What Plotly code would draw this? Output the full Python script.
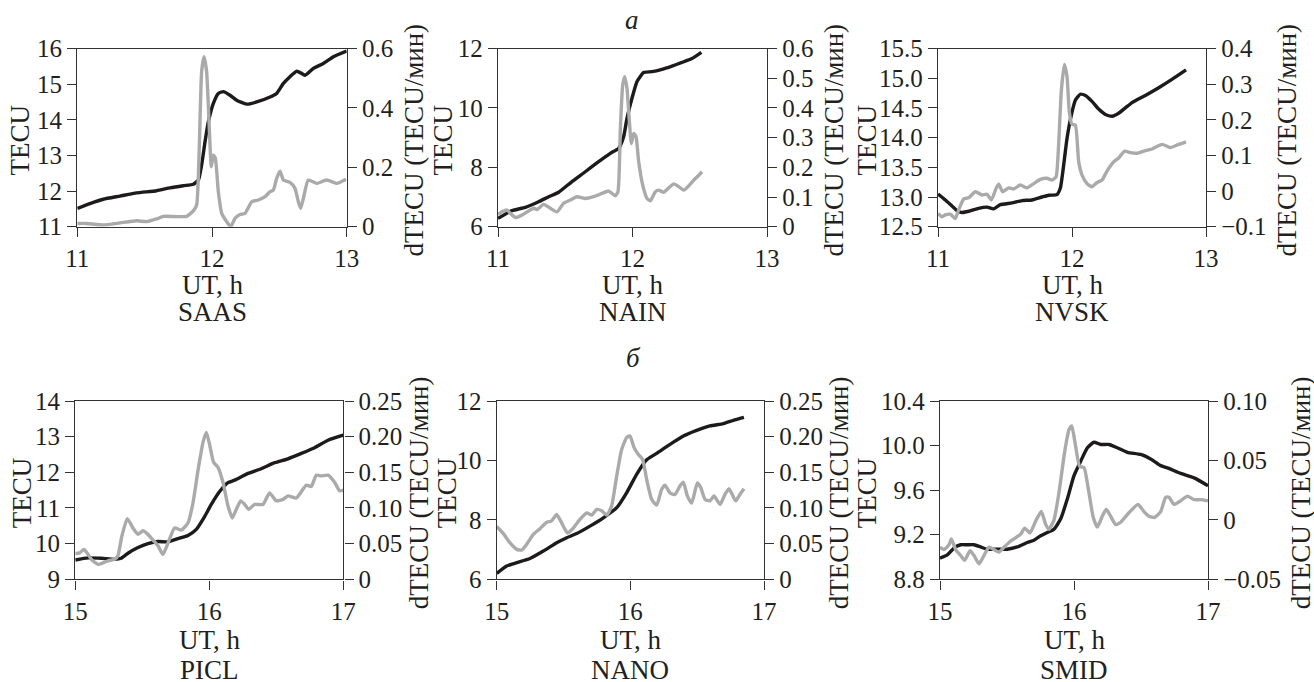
import plotly.graph_objects as go

W, H = 1314, 682

# ---------------- data ----------------
# SAAS
saas_t = [11.0, 11.094, 11.193, 11.317, 11.441, 11.589, 11.688, 11.787, 11.861, 11.899, 11.923, 11.948,
          11.973, 12.010, 12.047, 12.084, 12.134, 12.183, 12.257, 12.332, 12.431, 12.480, 12.530, 12.579,
          12.629, 12.666, 12.691, 12.752, 12.827, 12.901, 13.0]
saas_tec = [11.51, 11.65, 11.77, 11.86, 11.95, 12.01, 12.09, 12.15, 12.19, 12.31, 12.73, 13.38, 13.94,
            14.46, 14.74, 14.79, 14.69, 14.55, 14.44, 14.50, 14.64, 14.74, 15.02, 15.21, 15.36, 15.30,
            15.25, 15.44, 15.58, 15.77, 15.93]
saas_dt = [11.0, 11.069, 11.193, 11.317, 11.441, 11.515, 11.589, 11.639, 11.738, 11.812, 11.861, 11.886,
           11.906, 11.923, 11.941, 11.960, 11.980, 11.995, 12.010, 12.025, 12.047, 12.072, 12.109, 12.139,
           12.171, 12.208, 12.245, 12.295, 12.344, 12.394, 12.431, 12.455, 12.480, 12.505, 12.530, 12.579,
           12.616, 12.641, 12.658, 12.678, 12.715, 12.777, 12.851, 12.926, 12.995]
saas_dtec = [0.011, 0.011, 0.006, 0.013, 0.020, 0.017, 0.026, 0.035, 0.034, 0.035, 0.053, 0.073, 0.275,
             0.522, 0.572, 0.522, 0.331, 0.202, 0.241, 0.230, 0.118, 0.045, 0.017, 0.0, 0.028, 0.041,
             0.045, 0.084, 0.090, 0.101, 0.118, 0.123, 0.163, 0.187, 0.157, 0.149, 0.129, 0.084, 0.062,
             0.095, 0.157, 0.146, 0.157, 0.146, 0.160]

# NAIN
nain_t = [11.0, 11.104, 11.203, 11.302, 11.377, 11.451, 11.550, 11.649, 11.748, 11.835, 11.897, 11.934,
          11.959, 11.996, 12.033, 12.083, 12.145, 12.219, 12.294, 12.368, 12.442, 12.512]
nain_tec = [6.28, 6.54, 6.65, 6.84, 7.01, 7.16, 7.52, 7.85, 8.19, 8.47, 8.64, 9.03, 9.65, 10.32, 10.88,
            11.19, 11.22, 11.30, 11.41, 11.53, 11.66, 11.87]
nain_dt = [11.0, 11.030, 11.067, 11.092, 11.129, 11.178, 11.216, 11.265, 11.290, 11.340, 11.389, 11.439,
           11.488, 11.538, 11.587, 11.649, 11.711, 11.773, 11.823, 11.872, 11.892, 11.910, 11.927, 11.942,
           11.959, 11.977, 11.991, 12.009, 12.026, 12.046, 12.076, 12.108, 12.133, 12.170, 12.195, 12.232,
           12.270, 12.307, 12.344, 12.381, 12.419, 12.456, 12.481, 12.517]
nain_dtec = [0.041, 0.050, 0.056, 0.045, 0.031, 0.039, 0.050, 0.062, 0.058, 0.075, 0.062, 0.050, 0.079,
             0.090, 0.101, 0.095, 0.101, 0.112, 0.120, 0.104, 0.118, 0.331, 0.477, 0.505, 0.465, 0.353,
             0.280, 0.314, 0.303, 0.219, 0.140, 0.095, 0.087, 0.118, 0.123, 0.116, 0.131, 0.144, 0.135,
             0.123, 0.138, 0.157, 0.168, 0.185]

# NVSK
nvsk_t = [11.0, 11.055, 11.104, 11.149, 11.179, 11.229, 11.303, 11.366, 11.415, 11.465, 11.552, 11.627,
          11.701, 11.776, 11.826, 11.888, 11.913, 11.938, 11.963, 11.995, 12.025, 12.062, 12.100, 12.149,
          12.199, 12.249, 12.299, 12.348, 12.398, 12.448, 12.547, 12.647, 12.746, 12.851]
nvsk_tec = [13.05, 12.95, 12.85, 12.76, 12.74, 12.76, 12.81, 12.83, 12.80, 12.87, 12.90, 12.94, 12.95,
            13.00, 13.03, 13.04, 13.15, 13.54, 13.99, 14.38, 14.63, 14.73, 14.71, 14.61, 14.48, 14.39,
            14.36, 14.41, 14.50, 14.59, 14.71, 14.84, 14.98, 15.14]
nvsk_dt = [11.0, 11.030, 11.055, 11.092, 11.129, 11.154, 11.192, 11.229, 11.279, 11.328, 11.366, 11.398,
           11.433, 11.453, 11.483, 11.527, 11.565, 11.614, 11.664, 11.714, 11.764, 11.813, 11.851, 11.881,
           11.900, 11.920, 11.943, 11.963, 11.980, 12.000, 12.025, 12.050, 12.075, 12.112, 12.149, 12.187,
           12.224, 12.261, 12.311, 12.348, 12.393, 12.435, 12.485, 12.535, 12.597, 12.672, 12.734, 12.796,
           12.851]
nvsk_dtec = [-0.063, -0.072, -0.067, -0.065, -0.077, -0.053, -0.022, -0.019, -0.002, -0.011, -0.009,
             -0.025, 0.007, 0.019, -0.002, 0.009, 0.006, 0.017, 0.009, 0.021, 0.033, 0.036, 0.031, 0.040,
             0.129, 0.279, 0.355, 0.321, 0.222, 0.187, 0.185, 0.082, 0.045, 0.021, 0.012, 0.024, 0.031,
             0.056, 0.082, 0.093, 0.112, 0.108, 0.106, 0.112, 0.118, 0.131, 0.122, 0.131, 0.138]

# PICL
picl_t = [15.0, 15.095, 15.194, 15.294, 15.343, 15.393, 15.468, 15.542, 15.617, 15.692, 15.766, 15.841,
          15.903, 15.965, 16.015, 16.077, 16.139, 16.189, 16.289, 16.388, 16.488, 16.587, 16.687, 16.786,
          16.886, 17.0]
picl_tec = [9.54, 9.60, 9.59, 9.56, 9.59, 9.73, 9.89, 10.00, 10.06, 10.05, 10.14, 10.23, 10.40, 10.76,
            11.10, 11.46, 11.71, 11.78, 11.97, 12.10, 12.27, 12.38, 12.53, 12.69, 12.90, 13.04]
picl_dt = [15.0, 15.032, 15.065, 15.095, 15.124, 15.169, 15.206, 15.244, 15.294, 15.318, 15.348, 15.388,
           15.430, 15.468, 15.505, 15.542, 15.580, 15.617, 15.654, 15.692, 15.741, 15.791, 15.841, 15.878,
           15.915, 15.953, 15.978, 16.002, 16.032, 16.065, 16.102, 16.139, 16.172, 16.201, 16.234, 16.264,
           16.294, 16.338, 16.401, 16.450, 16.500, 16.550, 16.587, 16.649, 16.724, 16.761, 16.798, 16.836,
           16.886, 16.935, 16.973, 17.0]
picl_dtec = [0.036, 0.037, 0.042, 0.035, 0.027, 0.021, 0.023, 0.026, 0.028, 0.033, 0.061, 0.085, 0.072,
             0.063, 0.068, 0.063, 0.055, 0.047, 0.035, 0.051, 0.072, 0.069, 0.079, 0.107, 0.152, 0.192,
             0.206, 0.189, 0.164, 0.157, 0.136, 0.103, 0.086, 0.098, 0.110, 0.105, 0.098, 0.105, 0.105,
             0.121, 0.110, 0.112, 0.117, 0.114, 0.132, 0.130, 0.146, 0.145, 0.146, 0.136, 0.124, 0.125]

# NANO
nano_t = [15.0, 15.075, 15.150, 15.249, 15.349, 15.449, 15.524, 15.599, 15.698, 15.798, 15.898, 15.973,
          16.047, 16.122, 16.197, 16.297, 16.397, 16.496, 16.596, 16.696, 16.771, 16.850]
nano_tec = [6.20, 6.45, 6.56, 6.70, 6.95, 7.23, 7.40, 7.54, 7.79, 8.07, 8.41, 8.92, 9.53, 10.02, 10.24,
            10.54, 10.82, 11.01, 11.16, 11.24, 11.35, 11.45]
nano_dt = [15.0, 15.050, 15.100, 15.150, 15.187, 15.224, 15.274, 15.324, 15.374, 15.411, 15.449, 15.486,
           15.529, 15.574, 15.623, 15.673, 15.711, 15.748, 15.786, 15.823, 15.860, 15.898, 15.935, 15.973,
           15.998, 16.027, 16.060, 16.092, 16.122, 16.160, 16.197, 16.234, 16.259, 16.297, 16.334, 16.372,
           16.397, 16.426, 16.459, 16.501, 16.526, 16.559, 16.596, 16.626, 16.671, 16.708, 16.738, 16.788,
           16.820, 16.850]
nano_dtec = [0.074, 0.064, 0.051, 0.042, 0.041, 0.049, 0.063, 0.071, 0.080, 0.082, 0.091, 0.079, 0.065,
             0.072, 0.084, 0.093, 0.090, 0.098, 0.096, 0.090, 0.103, 0.145, 0.182, 0.199, 0.201, 0.185,
             0.175, 0.168, 0.140, 0.112, 0.104, 0.126, 0.132, 0.121, 0.119, 0.131, 0.136, 0.117, 0.107,
             0.135, 0.129, 0.112, 0.110, 0.117, 0.105, 0.119, 0.127, 0.110, 0.119, 0.127]

# SMID
smid_t = [15.0, 15.055, 15.104, 15.154, 15.204, 15.254, 15.303, 15.353, 15.428, 15.502, 15.577, 15.652,
          15.701, 15.751, 15.801, 15.851, 15.900, 15.950, 16.000, 16.050, 16.100, 16.149, 16.199, 16.261,
          16.323, 16.398, 16.498, 16.572, 16.647, 16.697, 16.796, 16.896, 17.0]
smid_tec = [8.99, 9.02, 9.08, 9.11, 9.11, 9.11, 9.09, 9.07, 9.07, 9.07, 9.09, 9.13, 9.15, 9.19, 9.22,
            9.25, 9.34, 9.52, 9.73, 9.86, 9.98, 10.03, 10.01, 10.01, 9.98, 9.94, 9.92, 9.88, 9.82, 9.80,
            9.75, 9.71, 9.64]
smid_dt = [15.0, 15.030, 15.067, 15.085, 15.117, 15.154, 15.184, 15.224, 15.254, 15.291, 15.328, 15.366,
           15.403, 15.440, 15.478, 15.515, 15.552, 15.602, 15.632, 15.672, 15.714, 15.756, 15.789, 15.813,
           15.851, 15.888, 15.930, 15.963, 15.983, 16.012, 16.042, 16.075, 16.104, 16.144, 16.174, 16.211,
           16.241, 16.274, 16.311, 16.348, 16.410, 16.478, 16.522, 16.560, 16.602, 16.647, 16.684, 16.709,
           16.746, 16.796, 16.846, 16.896, 16.945, 17.0]
smid_dtec = [-0.023, -0.025, -0.021, -0.016, -0.025, -0.030, -0.034, -0.026, -0.030, -0.037, -0.030,
             -0.023, -0.025, -0.027, -0.023, -0.019, -0.016, -0.012, -0.007, -0.011, -0.001, 0.007,
             -0.004, -0.008, 0.000, 0.023, 0.057, 0.076, 0.079, 0.062, 0.045, 0.044, 0.028, 0.002,
             -0.006, 0.003, 0.009, 0.003, -0.004, -0.002, 0.006, 0.013, 0.007, 0.003, 0.002, 0.007,
             0.019, 0.019, 0.013, 0.016, 0.020, 0.017, 0.017, 0.016]

# station names and axis ticks
stations = ["SAAS", "NAIN", "NVSK", "PICL", "NANO", "SMID"]
x_ticks_a = [11, 12, 13]
x_ticks_b = [15, 16, 17]
left_ticks = [
    [11, 12, 13, 14, 15, 16],
    [6, 8, 10, 12],
    [12.5, 13.0, 13.5, 14.0, 14.5, 15.0, 15.5],
    [9, 10, 11, 12, 13, 14],
    [6, 8, 10, 12],
    [8.8, 9.2, 9.6, 10.0, 10.4],
]
left_labels = [
    ["11", "12", "13", "14", "15", "16"],
    ["6", "8", "10", "12"],
    ["12.5", "13.0", "13.5", "14.0", "14.5", "15.0", "15.5"],
    ["9", "10", "11", "12", "13", "14"],
    ["6", "8", "10", "12"],
    ["8.8", "9.2", "9.6", "10.0", "10.4"],
]
right_ticks = [
    [0, 0.2, 0.4, 0.6],
    [0, 0.1, 0.2, 0.3, 0.4, 0.5, 0.6],
    [-0.1, 0, 0.1, 0.2, 0.3, 0.4],
    [0, 0.05, 0.10, 0.15, 0.20, 0.25],
    [0, 0.05, 0.10, 0.15, 0.20, 0.25],
    [-0.05, 0, 0.05, 0.10],
]
right_labels = [
    ["0", "0.2", "0.4", "0.6"],
    ["0", "0.1", "0.2", "0.3", "0.4", "0.5", "0.6"],
    ["\u22120.1", "0", "0.1", "0.2", "0.3", "0.4"],
    ["0", "0.05", "0.10", "0.15", "0.20", "0.25"],
    ["0", "0.05", "0.10", "0.15", "0.20", "0.25"],
    ["\u22120.05", "0", "0.05", "0.10"],
]

# ---------------- layout geometry (pixels) ----------------
series = [
    (saas_t, saas_tec, saas_dt, saas_dtec),
    (nain_t, nain_tec, nain_dt, nain_dtec),
    (nvsk_t, nvsk_tec, nvsk_dt, nvsk_dtec),
    (picl_t, picl_tec, picl_dt, picl_dtec),
    (nano_t, nano_tec, nano_dt, nano_dtec),
    (smid_t, smid_tec, smid_dt, smid_dtec),
]
boxes = [
    (77.3, 346.7, 48.5, 226.7),
    (498.0, 767.0, 48.5, 226.7),
    (938.0, 1206.0, 48.5, 226.7),
    (75.3, 343.3, 401.0, 579.3),
    (496.7, 764.0, 401.0, 579.3),
    (940.0, 1208.0, 401.0, 579.3),
]
left_title_x = [20, 443, 867, 22, 447, 867]
right_title_x = [414, 834, 1287, 419, 839, 1301]

FONT = "Liberation Serif"
TXT = "#231f20"
AX = "#333333"
BLACK = "#1c1a1b"
GREY = "#aaaaaa"


def px(x):
    return x / W


def py(y):
    return 1 - y / H


fig = go.Figure()
layout = {}
annotations = []

for i in range(6):
    n = i + 1
    xk = "xaxis" if n == 1 else f"xaxis{n}"
    ylk = "yaxis" if n == 1 else f"yaxis{2 * n - 1}"
    yrk = f"yaxis{2 * n}"
    xref = "x" if n == 1 else f"x{n}"
    ylref = "y" if n == 1 else f"y{2 * n - 1}"
    yrref = f"y{2 * n}"
    x0, x1, y0, y1 = boxes[i]
    xt = x_ticks_a if i < 3 else x_ticks_b
    lt, ll = left_ticks[i], left_labels[i]
    rt, rl = right_ticks[i], right_labels[i]

    common = dict(showgrid=False, zeroline=False, showline=True, linecolor=AX, linewidth=1.4,
                  ticks="outside", ticklen=9, tickwidth=1.3, tickcolor=AX, automargin=False,
                  tickfont=dict(family=FONT, size=25, color=TXT))
    layout[xk] = dict(common, domain=[px(x0), px(x1)], anchor=ylref, range=[xt[0], xt[-1]],
                      tickvals=xt, ticktext=[str(v) for v in xt], mirror=True)
    layout[ylk] = dict(common, domain=[py(y1), py(y0)], anchor=xref, range=[lt[0], lt[-1]],
                       tickvals=lt, ticktext=ll, side="left")
    layout[yrk] = dict(common, domain=[py(y1), py(y0)], anchor=xref, overlaying=ylref,
                       range=[rt[0], rt[-1]], tickvals=rt, ticktext=rl, side="right")

    t, tec, dt, dtec = series[i]
    fig.add_trace(go.Scatter(x=t, y=tec, xaxis=xref, yaxis=ylref, mode="lines",
                             line=dict(color=BLACK, width=3.4, shape="spline", smoothing=0.5),
                             showlegend=False, cliponaxis=False))
    fig.add_trace(go.Scatter(x=dt, y=dtec, xaxis=xref, yaxis=yrref, mode="lines",
                             line=dict(color=GREY, width=3.4, shape="spline", smoothing=0.5),
                             showlegend=False, cliponaxis=False))

    cx = (x0 + x1) / 2
    cy = (y0 + y1) / 2
    row2 = i >= 3
    annotations.append(dict(text="TECU", x=px(left_title_x[i]), y=py(cy + 3), xref="paper", yref="paper",
                            textangle=-90, showarrow=False, xanchor="center", yanchor="middle",
                            font=dict(family=FONT, size=27, color=TXT)))
    annotations.append(dict(text="dTECU (TECU/мин)", x=px(right_title_x[i]), y=py(cy + 3),
                            xref="paper", yref="paper", textangle=-90, showarrow=False,
                            xanchor="center", yanchor="middle",
                            font=dict(family=FONT, size=27, color=TXT)))
    annotations.append(dict(text="UT, h", x=px(cx), y=py(640 if row2 else 285), xref="paper",
                            yref="paper", showarrow=False, xanchor="center", yanchor="middle",
                            font=dict(family=FONT, size=27, color=TXT)))
    annotations.append(dict(text=stations[i], x=px(cx), y=py(670 if row2 else 312), xref="paper",
                            yref="paper", showarrow=False, xanchor="center", yanchor="middle",
                            font=dict(family=FONT, size=27, color=TXT)))

annotations.append(dict(text="<i>а</i>", x=px(632), y=py(20), xref="paper", yref="paper",
                        showarrow=False, xanchor="center", yanchor="middle",
                        font=dict(family=FONT, size=27, color=TXT)))
annotations.append(dict(text="<i>б</i>", x=px(633), y=py(358), xref="paper", yref="paper",
                        showarrow=False, xanchor="center", yanchor="middle",
                        font=dict(family=FONT, size=27, color=TXT)))

fig.update_layout(width=W, height=H, margin=dict(l=0, r=0, t=0, b=0, pad=0, autoexpand=False),
                  paper_bgcolor="white", plot_bgcolor="white",
                  annotations=annotations, **layout)

fig.write_html("out.html", config={"displayModeBar": False},
               post_script="document.body.style.margin='0';document.body.style.padding='0';"
                           "document.body.style.overflow='hidden';")
